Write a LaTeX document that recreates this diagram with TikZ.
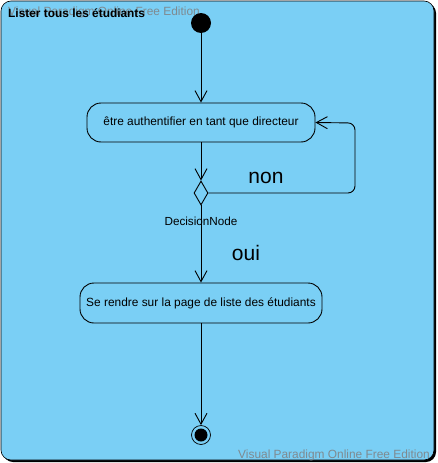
\documentclass[tikz,border=0pt]{standalone}
\usepackage{fontspec}
\setmainfont{Liberation Sans}
\usetikzlibrary{arrows.meta,shapes.geometric}
\definecolor{bgblue}{HTML}{7ACFF5}
\definecolor{wmgray}{HTML}{7F8A90}
\tikzset{
  actbox/.style={draw=black, line width=0.9pt, rounded corners=14pt, fill=bgblue,
    minimum height=39pt, inner sep=0pt, font=\fontsize{11.9}{14}\selectfont},
  flow/.style={draw=black, line width=0.9pt, -{Straight Barb[length=11pt,width=12pt,line width=0.9pt]}},
  guard/.style={font=\fontsize{21}{24}\selectfont},
  wm/.style={text=wmgray, font=\fontsize{11.9}{14}\selectfont, inner sep=0pt, anchor=base west},
}
\begin{document}
\begin{tikzpicture}[x=1pt,y=-1pt]
\useasboundingbox (0,0) rectangle (437,463);
% frame with shadow
\fill[black, rounded corners=10pt] (3,3) rectangle (436,462);
\filldraw[fill=bgblue, draw=black, line width=0.6pt, rounded corners=10pt] (1,1) rectangle (434,460);
\node[wm] (wm1) at (8,16) {Visual Paradigm Online Free Edition};
\node[anchor=base west, inner sep=0pt, font=\bfseries\fontsize{11.9}{14}\selectfont] (title) at (8,17) {Lister tous les étudiants};
\node[wm] (wm2) at (238,458) {Visual Paradigm Online Free Edition};
% nodes
\node[circle, fill=black, minimum size=20pt, inner sep=0pt] (start) at (201,23) {};
\node[actbox, minimum width=228pt] (a1) at (201,122.5) {être authentifier en tant que directeur};
\node[diamond, draw=black, line width=0.9pt, fill=bgblue, minimum width=14pt, minimum height=24pt, inner sep=0pt, aspect=0.58] (dec) at (201,193) {};
\node[font=\fontsize{11.7}{14}\selectfont] (declab) at (201,221) {DecisionNode};
\node[actbox, minimum width=242pt, minimum height=40pt] (a2) at (201,303) {Se rendre sur la page de liste des étudiants};
\node[circle, draw=black, line width=0.7pt, minimum size=19pt, inner sep=0pt] (end) at (201,435) {};
\node[circle, fill=black, minimum size=13pt, inner sep=0pt] (endin) at (201,435) {};
% edges
\draw[flow] (start) -- (a1);
\draw[flow] (a1) -- (dec);
\draw[flow] (dec.south) -- (a2);
\draw[flow] (a2) -- (end);
\draw[flow, rounded corners=7pt] (dec.east) -- (355,193) -- (355,123) -- (a1.east);
\node[guard] (non) at (266,178) {non};
\node[guard] (oui) at (246,253) {oui};
\end{tikzpicture}
\end{document}
